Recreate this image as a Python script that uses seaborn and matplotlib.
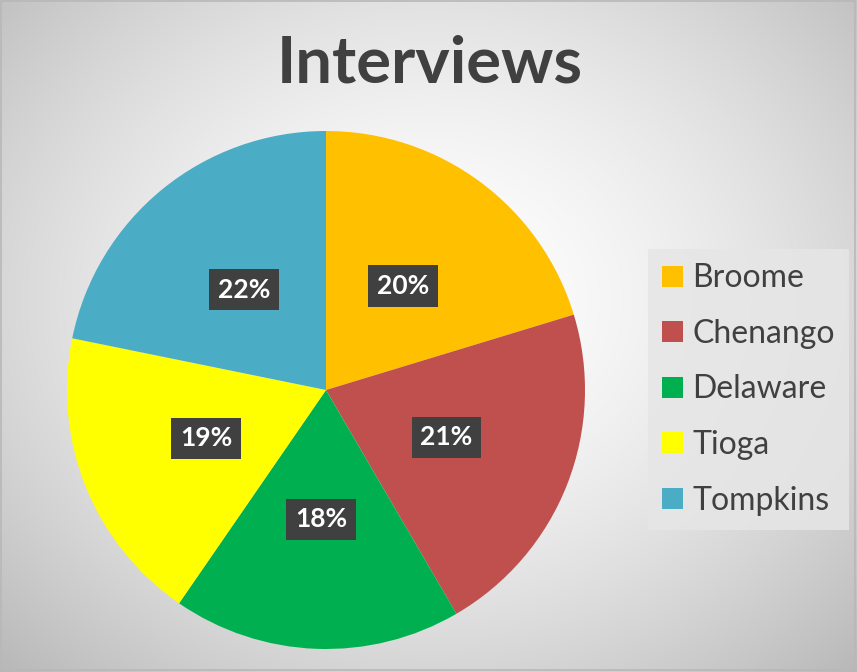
import numpy as np
import matplotlib
matplotlib.use("Agg")
import matplotlib.pyplot as plt
import seaborn as sns
from matplotlib.patches import Rectangle

# ---- data ----
counties = ["Broome", "Chenango", "Delaware", "Tioga", "Tompkins"]
shares = [20.3, 21.3, 18.0, 18.6, 21.8]
colors = ["#FFC000", "#C0504D", "#00B050", "#FFFF00", "#4BACC6"]
title = "Interviews"

sns.set_theme(style="white")
plt.rcParams["font.family"] = ["Lato", "DejaVu Sans"]

W, H = 857, 672
fig = plt.figure(figsize=(W / 100, H / 100), dpi=100)

# radial gradient background
bg = fig.add_axes([0, 0, 1, 1], zorder=0)
yy, xx = np.mgrid[0:H, 0:W]
cx, cy = 430, 300
d = np.sqrt(((xx - cx) / 560.0) ** 2 + ((yy - cy) / 470.0) ** 2)
g = 1.0 - 0.24 * np.clip(d, 0, 1.2) ** 1.6
img = np.dstack([g, g, g])
bg.imshow(img, extent=[0, W, H, 0], aspect="auto", interpolation="bilinear")
bg.add_patch(Rectangle((1, 1), W - 3, H - 3, fill=False, edgecolor="#b8b8b8", lw=1.2))
bg.set_xlim(0, W)
bg.set_ylim(H, 0)
bg.axis("off")

# pie axes: center (326, 390), radius 259
R, pcx, pcy = 259, 326, 390
ax = fig.add_axes([(pcx - R) / W, (H - pcy - R) / H, 2 * R / W, 2 * R / H], zorder=1)
wedges, texts, autotexts = ax.pie(
    shares, colors=colors, startangle=90, counterclock=False, radius=1.0,
    autopct=lambda p: f"{p:.0f}%", pctdistance=0.5,
    wedgeprops=dict(linewidth=0),
    textprops=dict(color="white", fontsize=19, fontweight="bold"),
)
for t in autotexts:
    t.set_bbox(dict(boxstyle="square,pad=0.33", facecolor="#404040", edgecolor="none"))
ax.set_xlim(-1, 1)
ax.set_ylim(-1, 1)
ax.set_aspect("equal")
ax.axis("off")

fig.text(430 / W, 1 - 64 / H, title, ha="center", va="center",
         fontsize=47, fontweight="bold", color="#404040")

leg = fig.legend(
    wedges, counties, loc="upper left",
    bbox_to_anchor=(648 / W, 1 - 249 / H),
    frameon=True, fontsize=23, labelcolor="#404040",
    handlelength=0.63, handleheight=0.63, handletextpad=0.31,
    labelspacing=0.80, borderpad=0.45, borderaxespad=0,
    fancybox=False,
)
fr = leg.get_frame()
fr.set_facecolor("#e6e6e6")
fr.set_edgecolor("none")
fr.set_alpha(0.85)

fig.savefig("out.png", dpi=100)
